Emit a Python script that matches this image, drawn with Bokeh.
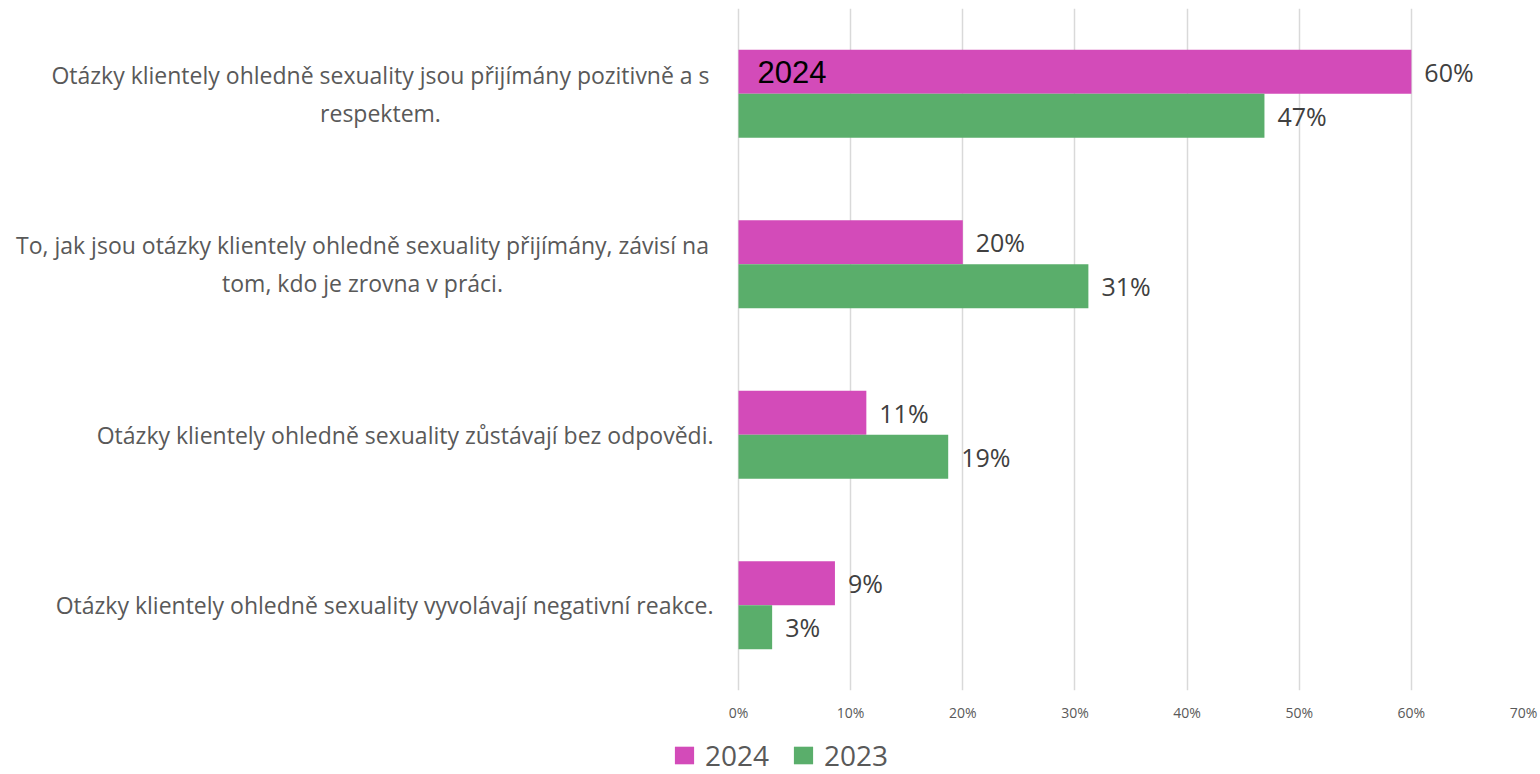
from bokeh.plotting import figure
from bokeh.layouts import column
from bokeh.models import (ColumnDataSource, Range1d, FixedTicker, PrintfTickFormatter,
                          LabelSet, Label, Legend, LegendItem)
from bokeh.transform import dodge
from bokeh.core.properties import value
from bokeh.embed import file_html
from bokeh.resources import INLINE

# ---- data ----
categories = [
    "Otázky klientely ohledně sexuality jsou přijímány pozitivně a s\nrespektem.",
    "To, jak jsou otázky klientely ohledně sexuality přijímány, závisí na\ntom, kdo je zrovna v práci.",
    "Otázky klientely ohledně sexuality zůstávají bez odpovědi.",
    "Otázky klientely ohledně sexuality vyvolávají negativní reakce.",
]
values_2024 = [60.0, 20.0, 11.4, 8.6]
values_2023 = [46.9, 31.2, 18.7, 3.0]
series_names = ["2024", "2023"]
x_ticks = [0, 10, 20, 30, 40, 50, 60, 70]

COL_2024 = "#D34BB9"
COL_2023 = "#5AAE6B"
TEXT_GRAY = "#595959"
FONT = "Open Sans"

# ---- layout constants (screen px) ----
W, H = 1540, 774
ZERO_PX = 738          # where 0% sits
FULL_PX = 1523         # where 70% sits
TOP_PX = 8
FRAME_H = 682
BOTTOM_BORDER = 44
px_per_unit = (FULL_PX - ZERO_PX) / 70.0
x_start = -ZERO_PX / px_per_unit

def px_to_data(cx):
    return (cx - ZERO_PX) / px_per_unit

n = len(categories)
ypos = [n - 0.5 - i for i in range(n)]  # top category first

BAR_H = 0.258
OFF = BAR_H / 2

src = ColumnDataSource(dict(
    y=ypos,
    v24=values_2024,
    v23=values_2023,
    l24=[f"{round(v)}%" for v in values_2024],
    l23=[f"{round(v)}%" for v in values_2023],
))

# category label placement: (anchor px, alignment)
label_specs = [(380, "center"), (362, "center"), (713, "right"), (713, "right")]
cat_src = ColumnDataSource(dict(
    x=[px_to_data(cx) for cx, _ in label_specs],
    y=ypos,
    text=categories,
    align=[a for _, a in label_specs],
))

p = figure(frame_width=FULL_PX, frame_height=FRAME_H, output_backend="svg", toolbar_location=None,
           x_range=Range1d(x_start, 70), y_range=Range1d(0, n),
           min_border_left=0, min_border_right=W - FULL_PX, min_border_top=TOP_PX,
           min_border_bottom=BOTTOM_BORDER)
p.outline_line_color = None
p.background_fill_color = "white"

r24 = p.hbar(y=dodge("y", OFF, range=p.y_range), right="v24", left=0, height=BAR_H,
             source=src, fill_color=COL_2024, line_color=None)
r23 = p.hbar(y=dodge("y", -OFF, range=p.y_range), right="v23", left=0, height=BAR_H,
             source=src, fill_color=COL_2023, line_color=None)

# value labels
for col, lab, off in (("v24", "l24", OFF), ("v23", "l23", -OFF)):
    ls = LabelSet(x=col, y=dodge("y", off, range=p.y_range), text=lab, source=src,
                  x_offset=13, text_baseline="middle", text_align="left",
                  text_font=value(FONT), text_font_size="25px", text_color="#404040")
    p.add_layout(ls)

# stray "2024" text inside first bar
p.add_layout(Label(x=1.7, y=ypos[0] + OFF, text=series_names[0], text_baseline="middle",
                   text_align="left", text_font="Liberation Sans", text_font_size="31px",
                   text_color="black"))

# category labels
p.text(x="x", y="y", text="text", source=cat_src, text_align="align",
       text_baseline="middle", text_font=value(FONT), text_font_size="23px",
       text_color=TEXT_GRAY, text_line_height=1.2)

# axes
p.yaxis.visible = False
p.ygrid.grid_line_color = None
p.xgrid.grid_line_color = "#D9D9D9"
p.xgrid.grid_line_width = 1.5
p.xaxis.ticker = FixedTicker(ticks=x_ticks)
p.xgrid.ticker = FixedTicker(ticks=x_ticks)
p.xaxis.formatter = PrintfTickFormatter(format="%d%%")
p.xaxis.axis_line_color = None
p.xaxis.major_tick_line_color = None
p.xaxis.minor_tick_line_color = None
p.xaxis.major_label_standoff = 6
p.xaxis.major_label_text_font = FONT
p.xaxis.major_label_text_font_size = "14px"
p.xaxis.major_label_text_color = TEXT_GRAY

# ---- legend strip below ----
LEG_H = H - (TOP_PX + FRAME_H + BOTTOM_BORDER)
p2 = figure(width=W, height=LEG_H, output_backend="svg", toolbar_location=None,
            x_range=Range1d(0, W), y_range=Range1d(0, LEG_H),
            min_border_left=0, min_border_right=0, min_border_top=0, min_border_bottom=0)
p2.outline_line_color = None
p2.axis.visible = False
p2.grid.visible = False
# zero-length swatch renderers used only to draw the legend keys
key_src = ColumnDataSource(dict(y=[0], right=[0]))
k24 = p2.hbar(y="y", right="right", left=0, height=1, source=key_src,
              fill_color=COL_2024, line_color=None)
k23 = p2.hbar(y="y", right="right", left=0, height=1, source=key_src,
              fill_color=COL_2023, line_color=None)

legend = Legend(items=[LegendItem(label=series_names[0], renderers=[k24]),
                       LegendItem(label=series_names[1], renderers=[k23])],
                orientation="horizontal", location=(672, 0),
                label_text_font=FONT, label_text_font_size="28px", label_text_color=TEXT_GRAY,
                glyph_width=24, glyph_height=22, label_standoff=9, spacing=22,
                padding=0, margin=0, border_line_alpha=0, background_fill_alpha=0)
p2.add_layout(legend)

layout = column(p, p2, spacing=0)
open("out.html", "w").write(file_html(layout, INLINE))
